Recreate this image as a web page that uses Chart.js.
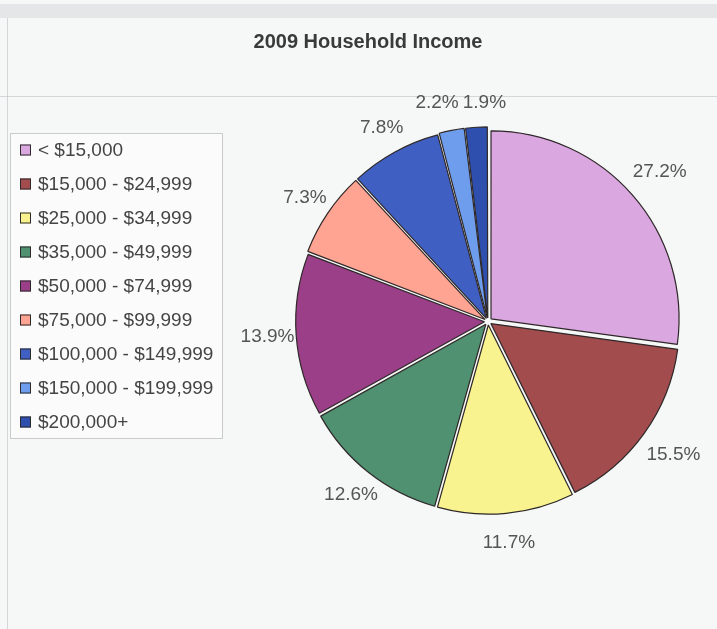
<!DOCTYPE html>
<html><head><meta charset="utf-8">
<script src="https://cdn.jsdelivr.net/npm/chart.js@4/dist/chart.umd.min.js"></script>
<style>
html,body{margin:0;padding:0;background:#f6f7f7;overflow:hidden}
#wrap{width:717px;height:629px;position:relative}
canvas{display:block}
</style>
</head><body>
<div id="wrap"><canvas id="c" width="717" height="629"></canvas></div>
<script>
const chartTitle = '2009 Household Income';
const categories = ['< $15,000','$15,000 - $24,999','$25,000 - $34,999','$35,000 - $49,999','$50,000 - $74,999','$75,000 - $99,999','$100,000 - $149,999','$150,000 - $199,999','$200,000+'];
const shares = [27.2, 15.5, 11.7, 12.6, 13.9, 7.3, 7.8, 2.2, 1.9];
const pctLabels = shares.map(v => v.toFixed(1) + '%');
const sliceColors = ['#dba7e0','#a34c4e','#f8f38e','#4f9170','#9b3f88','#ffa393','#3f5fc2','#6e9ded','#2f4fae'];
const explode = [16, 14, 14, 14, 14, 14, 14, 14, 14];

const FONT = '"Liberation Sans", Arial, sans-serif';

const decor = {
  id: 'decor',
  beforeDraw(chart) {
    const ctx = chart.ctx;
    ctx.save();
    ctx.fillStyle = '#f6f7f7';
    ctx.fillRect(0, 0, chart.width, chart.height);
    ctx.fillStyle = 'rgba(150,155,160,0.18)';
    ctx.fillRect(0, 4, chart.width, 14);
    ctx.strokeStyle = 'rgba(170,175,180,0.45)';
    ctx.lineWidth = 1;
    ctx.beginPath();
    ctx.moveTo(7.5, 18); ctx.lineTo(7.5, chart.height);
    ctx.moveTo(0, 96.5); ctx.lineTo(chart.width, 96.5);
    ctx.stroke();
    ctx.restore();
  },
  afterDatasetsDraw(chart) {
    const ctx = chart.ctx;
    const meta = chart.getDatasetMeta(0);
    ctx.save();
    ctx.font = '19px ' + FONT;
    ctx.fillStyle = '#555555';
    ctx.textAlign = 'center';
    ctx.textBaseline = 'middle';
    const pos = meta.data.map((arc, i) => {
      const p = arc.getProps(['x', 'y', 'startAngle', 'endAngle', 'outerRadius'], true);
      const mid = (p.startAngle + p.endAngle) / 2;
      const R = p.outerRadius + 33 + 9 * Math.max(0, Math.cos(mid));
      return { x: p.x + Math.cos(mid) * R, y: p.y + Math.sin(mid) * R, w: ctx.measureText(pctLabels[i]).width, h: 18 };
    });
    for (let k = 0; k < 3; k++) {
      for (let i = 0; i < pos.length; i++) {
        const a = pos[i], b = pos[(i + 1) % pos.length];
        const need = (a.w + b.w) / 2 + 4;
        if (Math.abs(a.y - b.y) < a.h && Math.abs(a.x - b.x) < need) {
          const m = (a.x + b.x) / 2;
          const sgn = a.x <= b.x ? 1 : -1;
          a.x = m - sgn * need / 2; b.x = m + sgn * need / 2;
          const my = (a.y + b.y) / 2; a.y = my; b.y = my;
        }
      }
    }
    pos.forEach((q, i) => ctx.fillText(pctLabels[i], q.x, q.y));
    ctx.font = 'bold 20px ' + FONT;
    ctx.fillStyle = '#3a3a3a';
    ctx.fillText(chartTitle, 368, 42);
    const lx = 10.5, ly = 133.5, lw = 212, lh = 305;
    ctx.fillStyle = 'rgba(255,255,255,0.55)';
    ctx.fillRect(lx, ly, lw, lh);
    ctx.strokeStyle = '#c9cbcc';
    ctx.lineWidth = 1;
    ctx.strokeRect(lx, ly, lw, lh);
    ctx.font = '19px ' + FONT;
    ctx.textAlign = 'left';
    categories.forEach((name, i) => {
      const cy = 150 + i * 34;
      ctx.fillStyle = sliceColors[i];
      ctx.fillRect(20, cy - 5.5, 11, 11);
      ctx.strokeStyle = '#2d2a2a';
      ctx.strokeRect(20.5, cy - 5, 10, 10);
      ctx.fillStyle = '#444444';
      ctx.fillText(name, 38, cy + 1);
    });
    ctx.restore();
  }
};

new Chart(document.getElementById('c'), {
  type: 'pie',
  data: {
    labels: categories,
    datasets: [{
      data: shares,
      backgroundColor: sliceColors,
      borderColor: '#2e2828',
      borderWidth: 1.2,
      offset: explode,
      radius: 188
    }]
  },
  options: {
    responsive: false,
    devicePixelRatio: 1,
    animation: false,
    layout: { padding: { left: 259, right: 0, top: 14, bottom: 0 } },
    plugins: {
      legend: { display: false },
      tooltip: { enabled: false },
      title: { display: false }
    }
  },
  plugins: [decor]
});
</script>
</body></html>
